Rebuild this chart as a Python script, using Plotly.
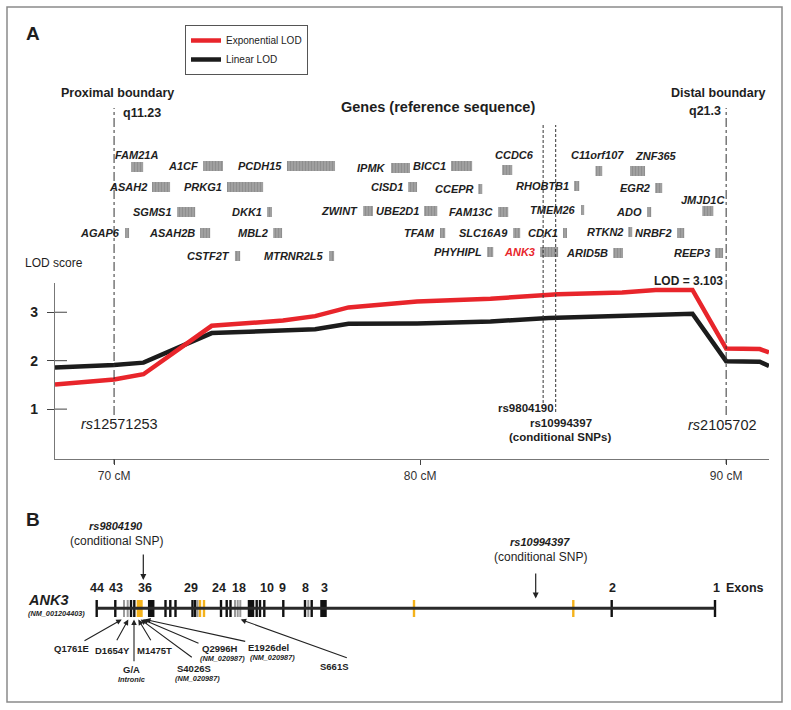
import plotly.graph_objects as go

W, H = 791, 710
FONT = "Liberation Sans, Arial, sans-serif"
INK = "#1e1e1e"
RED = "#e8252b"

# ---------------- Panel A data ----------------
exp_cm = [68.07, 70.0, 70.96, 73.19, 75.52, 76.57, 77.66, 79.9, 82.3, 84.5, 86.6, 87.7, 88.9, 90.0, 91.1, 91.4]
exp_lod = [1.51, 1.61, 1.72, 2.72, 2.83, 2.92, 3.10, 3.22, 3.28, 3.37, 3.41, 3.46, 3.46, 2.25, 2.24, 2.17]
lin_cm = [68.07, 70.0, 70.96, 73.19, 76.57, 77.66, 79.9, 82.3, 84.2, 86.6, 88.9, 90.0, 91.1, 91.4]
lin_lod = [1.86, 1.91, 1.96, 2.57, 2.65, 2.76, 2.77, 2.81, 2.88, 2.92, 2.97, 1.99, 1.98, 1.89]

cm_ticks = [70, 80, 90]
cm_ticktext = ["70 cM", "80 cM", "90 cM"]
lod_ticks = [1, 2, 3]

boundary_cm = [70.0, 90.0]
cond_snp_cm = [84.02, 84.43]

gene_names = ["FAM21A", "A1CF", "PCDH15", "ASAH2", "PRKG1", "SGMS1", "DKK1", "AGAP6", "ASAH2B", "MBL2",
              "CSTF2T", "MTRNR2L5", "IPMK", "BICC1", "CCDC6", "CISD1", "CCEPR", "RHOBTB1", "ZWINT", "UBE2D1",
              "FAM13C", "TMEM26", "TFAM", "SLC16A9", "CDK1", "PHYHIPL", "ANK3", "C11orf107", "ZNF365", "EGR2",
              "JMJD1C", "ADO", "RTKN2", "NRBF2", "ARID5B", "REEP3"]
gene_start = [70.56, 72.91, 75.65, 71.24, 73.69, 72.06, 75.00, 70.36, 72.81, 75.20,
              73.95, 77.03, 79.05, 81.01, 82.68, 79.61, 81.90, 85.03, 78.14, 80.13,
              82.55, 85.26, 80.65, 83.04, 84.67, 82.19, 83.92, 85.73, 86.86, 87.68,
              89.22, 87.42, 86.80, 88.40, 86.31, 89.64]
gene_end = [70.95, 73.56, 77.22, 71.83, 74.87, 72.65, 75.16, 70.49, 73.14, 75.49,
            74.12, 77.19, 79.67, 81.70, 83.01, 79.90, 82.03, 85.20, 78.46, 80.56,
            82.88, 85.36, 80.82, 83.27, 84.80, 82.39, 84.51, 85.95, 87.35, 87.91,
            89.58, 87.55, 86.93, 88.63, 86.63, 89.90]
gene_track = [167, 166, 166, 187, 187, 212, 212, 233, 233, 233,
              256, 256, 168, 166, 170, 187, 189, 186, 211, 211,
              212, 210, 233, 233, 233, 252, 252, 171, 171, 188,
              211, 212, 232, 233, 253, 253]
# labels placed above the glyph (others sit just left of it)
label_above = {"FAM21A": (70.72, 155), "CCDC6": (83.10, 155), "C11orf107": (85.79, 155),
               "ZNF365": (87.71, 156), "JMJD1C": (89.23, 200)}

# ---------------- Panel B data ----------------
exon_pos = [96.7, 115.3, 124.0, 127.7, 131.0, 134.3, 139.7, 151.2, 165.5, 170.3, 175.5, 192.5, 195.2,
            197.5, 200.0, 204.0, 221.0, 226.7, 230.5, 235.0, 237.7, 240.3, 251.0, 256.7, 260.0, 264.3,
            283.3, 305.0, 308.3, 311.7, 323.5, 414.0, 573.3, 611.7, 715.0]
exon_kind = ["k", "k", "g", "g", "k", "k", "O", "K", "k", "k", "k", "k", "k",
             "g", "o", "o", "k", "k", "k", "g", "g", "g", "K", "k", "k", "k",
             "k", "k", "g", "k", "K", "o", "o", "k", "k"]
exon_num = ["44", "43", "36", "29", "24", "18", "10", "9", "8", "3", "2", "1"]
exon_num_x = [96.7, 115.5, 145.0, 191.0, 219.3, 239.3, 266.7, 282.7, 305.7, 324.0, 612.5, 716.0]

mut_name = ["Q1761E", "D1654Y", "G/A", "M1475T", "S4026S", "Q2996H", "E1926del", "S661S"]
mut_note = ["", "", "Intronic", "", "(NM_020987)", "(NM_020987)", "(NM_020987)", ""]
mut_target = [121.7, 128.3, 134.0, 138.3, 140.7, 142.7, 145.0, 240.7]

kind_style = {"k": ("#111111", 2.4), "g": ("#9b9b9b", 2.0), "o": ("#f4b21b", 2.4),
              "K": ("#111111", 6.5), "O": ("#f4b21b", 6.0)}

fig = go.Figure()

# LOD curves
fig.add_trace(go.Scatter(x=lin_cm, y=lin_lod, mode="lines", name="Linear LOD",
                         line=dict(color="#1c1c1c", width=4.5), xaxis="x", yaxis="y"))
fig.add_trace(go.Scatter(x=exp_cm, y=exp_lod, mode="lines", name="Exponential LOD",
                         line=dict(color=RED, width=4.5), xaxis="x", yaxis="y"))

# gene glyphs
fig.add_trace(go.Bar(orientation="h", base=gene_start,
                     x=[e - s for s, e in zip(gene_start, gene_end)], y=gene_track,
                     width=10, xaxis="x", yaxis="y2", showlegend=False,
                     marker=dict(color="#7d7d7d", line=dict(width=0),
                                 pattern=dict(shape="|", fgcolor="#6e6e6e", bgcolor="#b0b0b0",
                                              size=3, solidity=0.65))))

# Panel B gene backbone and exons
fig.add_trace(go.Scatter(x=[exon_pos[0], exon_pos[-1]], y=[608.3, 608.3], mode="lines",
                         line=dict(color="#2a2a2a", width=3), xaxis="x2", yaxis="y3", showlegend=False))
fig.add_trace(go.Bar(x=exon_pos, y=[17] * len(exon_pos), base=600,
                     width=[kind_style[k][1] for k in exon_kind],
                     marker=dict(color=[kind_style[k][0] for k in exon_kind], line=dict(width=0)),
                     xaxis="x2", yaxis="y3", showlegend=False))

shapes = []
# outer frame
shapes.append(dict(type="rect", xref="paper", yref="paper", x0=7 / W, x1=782 / W, y0=1 - 702 / H, y1=1 - 7 / H,
                   line=dict(color="#8a8a8a", width=1.5)))
# boundary lines (dash-dot)
for c in boundary_cm:
    shapes.append(dict(type="line", xref="x", yref="paper", x0=c, x1=c, y0=1 - 415 / H, y1=1 - 108 / H,
                       line=dict(color="#333", width=1, dash="dashdot")))
    shapes.append(dict(type="line", xref="x", yref="paper", x0=c, x1=c, y0=1 - 464 / H, y1=1 - 459 / H,
                       line=dict(color="#333", width=1)))
# conditional SNP dashed lines
for c, bottom in zip(cond_snp_cm, [403, 412]):
    shapes.append(dict(type="line", xref="x", yref="paper", x0=c, x1=c, y0=1 - bottom / H, y1=1 - 125 / H,
                       line=dict(color="#333", width=1, dash="3px,2px")))
# inner halves of y ticks
for t in lod_ticks:
    shapes.append(dict(type="line", xref="paper", yref="y", x0=55 / W, x1=67 / W, y0=t, y1=t,
                       line=dict(color="#444", width=1)))

ann = []


def txt(x, y, text, size, color=INK, xanchor="center", ref=("x2", "y3")):
    ann.append(dict(x=x, y=y, xref=ref[0], yref=ref[1], text=text, showarrow=False,
                    xanchor=xanchor, yanchor="middle", font=dict(family=FONT, size=size, color=color)))


# gene labels
for n, s, t in zip(gene_names, gene_start, gene_track):
    col = RED if n == "ANK3" else INK
    if n in label_above:
        lx, ly = label_above[n]
        txt(lx, ly, f"<b><i>{n}</i></b>", 11, col, "center", ("x", "y2"))
    else:
        txt(s - 0.09, t, f"<b><i>{n}</i></b>", 11, col, "right", ("x", "y2"))

# Panel A static text
txt(33, 33, "<b>A</b>", 19)
txt(117.5, 93, "<b>Proximal boundary</b>", 12.5)
txt(121, 113, "<b>q11.23</b>", 12.5, xanchor="left")
txt(437.5, 107, "<b>Genes (reference sequence)</b>", 14.5)
txt(718.5, 93, "<b>Distal boundary</b>", 12.5)
txt(723, 111, "<b>q21.3</b>", 12.5, xanchor="right")
txt(23, 263, "LOD score", 12, xanchor="left")
txt(688.5, 281, "<b>LOD = 3.103</b>", 12)
txt(119, 424, "<i>rs</i>12571253", 14.5)
txt(722.5, 425, "<i>rs</i>2105702", 14.5)
txt(525.5, 408, "<b>rs9804190</b>", 11.5)
txt(560.5, 422.5, "<b>rs10994397</b>", 11.5)
txt(560, 437, "<b>(conditional SNPs)</b>", 11.5)

# Panel B static text
txt(33, 519, "<b>B</b>", 19)
txt(116, 526, "<b><i>rs9804190</i></b>", 11)
txt(116, 540.5, "(conditional SNP)", 12)
txt(540, 542, "<b><i>rs10994397</i></b>", 11)
txt(540, 557, "(conditional SNP)", 12)
txt(26, 600, "<b><i>ANK3</i></b>", 14.5, xanchor="left")
txt(26, 613, "<b><i>(NM_001204403)</i></b>", 7.3, xanchor="left")
for lab, x in zip(exon_num, exon_num_x):
    txt(x, 587.5, f"<b>{lab}</b>", 12.5)
txt(724, 587.5, "<b>Exons</b>", 12.5, xanchor="left")

# conditional SNP arrows in panel B
for x, y0, y1 in [(143.3, 553, 580), (535.7, 572, 598.5)]:
    ann.append(dict(x=x, y=y1, ax=x, ay=y0, xref="x2", yref="y3", axref="x2", ayref="y3", text="",
                    showarrow=True, arrowhead=2, arrowsize=1, arrowwidth=1.2, arrowcolor="#222", standoff=0))

# mutation labels with arrows
lab_xy = [(71.7, 648.3), (112, 650.7), (131, 669.5), (154.7, 650.7), (194, 668), (220, 648.5), (268.3, 647.3), (334, 666.7)]
tail_xy = [(83, 641.7), (116, 641.7), (134, 662.7), (151.7, 641.7), (193.3, 658.3), (200, 644), (246.7, 641.7), (348.3, 658.3)]
note_xy = [None, None, (131, 679), None, (197.5, 678), (222.5, 658.5), (272.8, 657.5), None]
for name, note, tx, (lx, ly), (ax, ay), nxy in zip(mut_name, mut_note, mut_target, lab_xy, tail_xy, note_xy):
    ann.append(dict(x=tx, y=619.5, ax=ax, ay=ay, xref="x2", yref="y3", axref="x2", ayref="y3", text="",
                    showarrow=True, arrowhead=2, arrowsize=1, arrowwidth=1.1, arrowcolor="#222", standoff=0))
    txt(lx, ly, f"<b>{name}</b>", 9.5)
    if note:
        txt(nxy[0], nxy[1], f"<b><i>{note}</i></b>", 7.3)

fig.update_layout(
    width=W, height=H, autosize=False,
    margin=dict(l=0, r=0, t=0, b=0, pad=0, autoexpand=False),
    paper_bgcolor="white", plot_bgcolor="rgba(0,0,0,0)",
    barmode="overlay",
    font=dict(family=FONT, color=INK),
    showlegend=True,
    legend=dict(x=185 / W, y=1 - 25 / H, xanchor="left", yanchor="top", bgcolor="white",
                bordercolor="#555", borderwidth=1, font=dict(size=10, color="#222", family=FONT),
                itemwidth=30, traceorder="reversed", tracegroupgap=0),
    xaxis=dict(domain=[55 / W, 769 / W], range=[68.07, 91.4], anchor="y", automargin=False,
               tickvals=cm_ticks, ticktext=cm_ticktext, ticks="outside", ticklen=5, tickcolor="#444",
               tickfont=dict(size=12, color="#333"), showline=True, linecolor="#777", linewidth=1.2,
               showgrid=False, zeroline=False),
    yaxis=dict(domain=[1 - 459 / H, 1 - 282.7 / H], range=[-0.03, 3.61], anchor="x", automargin=False,
               tickvals=lod_ticks, ticks="outside", ticklen=7, tickcolor="#444", ticklabelstandoff=6,
               tickfont=dict(size=14, color=INK, weight="bold"), showline=True, linecolor="#777",
               linewidth=1.2, showgrid=False, zeroline=False),
    yaxis2=dict(domain=[1 - 270 / H, 1 - 140 / H], range=[270, 140], anchor="x", visible=False,
                automargin=False),
    xaxis2=dict(domain=[0, 1], range=[0, W], anchor="y3", visible=False, automargin=False),
    yaxis3=dict(domain=[0, 1], range=[H, 0], anchor="x2", visible=False, automargin=False),
    shapes=shapes, annotations=ann,
)

fig.write_html("out.html", config={"displayModeBar": False, "staticPlot": True},
               post_script="document.body.style.margin='0';document.body.style.overflow='hidden';")
